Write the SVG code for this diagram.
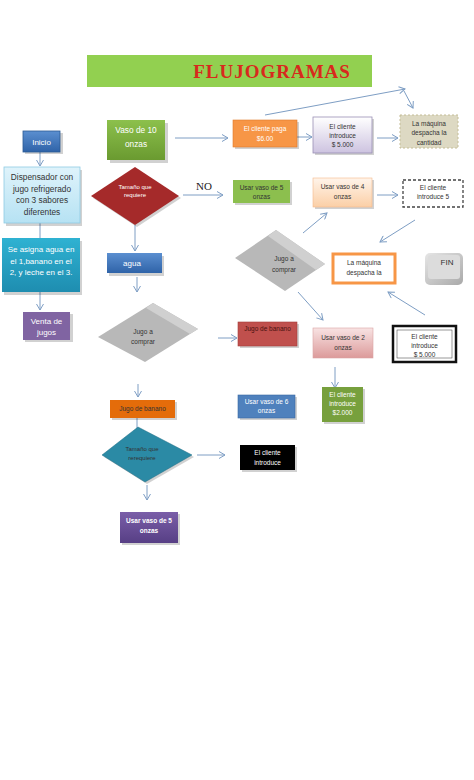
<svg xmlns="http://www.w3.org/2000/svg" width="474" height="780" viewBox="0 0 474 780">
<defs>
<linearGradient id="gBlue" x1="0" y1="0" x2="0" y2="1"><stop offset="0" stop-color="#5b8fd0"/><stop offset="1" stop-color="#2f63a8"/></linearGradient>
<linearGradient id="gGreen" x1="0" y1="0" x2="0" y2="1"><stop offset="0" stop-color="#8cc04c"/><stop offset="1" stop-color="#6a9a30"/></linearGradient>
<linearGradient id="gLav" x1="0" y1="0" x2="0" y2="1"><stop offset="0" stop-color="#ffffff"/><stop offset="1" stop-color="#cdc3e0"/></linearGradient>
<linearGradient id="gPeach" x1="0" y1="0" x2="0" y2="1"><stop offset="0" stop-color="#fff4ea"/><stop offset="1" stop-color="#fbcfa6"/></linearGradient>
<linearGradient id="gPink" x1="0" y1="0" x2="0" y2="1"><stop offset="0" stop-color="#f8e3e3"/><stop offset="1" stop-color="#dc9a9a"/></linearGradient>
<linearGradient id="gPurple" x1="0" y1="0" x2="0" y2="1"><stop offset="0" stop-color="#7a5ea8"/><stop offset="1" stop-color="#573f85"/></linearGradient>
<linearGradient id="gGray" x1="0" y1="0" x2="1" y2="1"><stop offset="0" stop-color="#e6e6e6"/><stop offset="1" stop-color="#a9a9a9"/></linearGradient>
<linearGradient id="gLightBlue" x1="0" y1="0" x2="0" y2="1"><stop offset="0" stop-color="#dff3fb"/><stop offset="1" stop-color="#b6e2f3"/></linearGradient>
<linearGradient id="gTeal" x1="0" y1="0" x2="0" y2="1"><stop offset="0" stop-color="#2fb2d2"/><stop offset="1" stop-color="#1e8db0"/></linearGradient>
<marker id="ah" markerWidth="8" markerHeight="8" refX="7" refY="4" orient="auto" markerUnits="userSpaceOnUse">
<path d="M1,0.5 L7,4 L1,7.5" fill="none" stroke="#7e9ec4" stroke-width="1"/>
</marker>
</defs>
<style>
.t{font-family:"Liberation Sans","Open Sans",sans-serif;text-anchor:middle}
.s55{font-size:6px}
.s65{font-size:6.5px}
.s8{font-size:8px}
.s85{font-size:8.3px}
.w{fill:#ffffff}
.d{fill:#333333}
.c{fill:none;stroke:#7e9ec4;stroke-width:1}
.ca{fill:none;stroke:#7e9ec4;stroke-width:1;marker-end:url(#ah)}
.sh{fill:#000;opacity:0.18}
</style>
<rect width="474" height="780" fill="#ffffff"/>

<g id="title">
<rect x="87" y="55" width="285" height="32" fill="#92d050"/>
<text x="272" y="78" font-family="Liberation Serif,serif" font-size="19" font-weight="bold" fill="#d8291d" text-anchor="middle" letter-spacing="1">FLUJOGRAMAS</text>
</g>

<g id="connectors">
<line class="ca" x1="40" y1="152" x2="40" y2="166"/>
<line class="c" x1="40" y1="223" x2="40" y2="238"/>
<line class="ca" x1="40" y1="292" x2="40" y2="310"/>
<line class="ca" x1="175" y1="138" x2="228" y2="138"/>
<line class="ca" x1="297" y1="137" x2="312" y2="137"/>
<line class="ca" x1="377" y1="138" x2="398" y2="138"/>
<line class="ca" x1="265" y1="115" x2="405" y2="89"/>
<line class="ca" x1="404" y1="91" x2="413" y2="108"/>
<line class="ca" x1="183" y1="195" x2="223" y2="195"/>
<line class="ca" x1="377" y1="195" x2="398" y2="195"/>
<line class="ca" x1="303" y1="233" x2="327" y2="213"/>
<line class="ca" x1="415" y1="220" x2="380" y2="242"/>
<line class="ca" x1="425" y1="315" x2="388" y2="292"/>
<line class="ca" x1="298" y1="292" x2="323" y2="320"/>
<line class="ca" x1="335" y1="367" x2="335" y2="388"/>
<line class="ca" x1="135" y1="225" x2="135" y2="251"/>
<line class="ca" x1="137" y1="277" x2="137" y2="292"/>
<line class="ca" x1="218" y1="338" x2="237" y2="338"/>
<line class="ca" x1="138" y1="384" x2="138" y2="397"/>
<line class="c" x1="137" y1="418" x2="137" y2="430"/>
<line class="ca" x1="197" y1="455" x2="225" y2="455"/>
<line class="ca" x1="147" y1="485" x2="147" y2="500"/>
</g>

<g id="inicio">
<rect class="sh" x="25" y="133" width="38" height="21"/>
<rect x="23" y="131" width="37" height="21" fill="url(#gBlue)" stroke="#2c5a94" stroke-width="0.8"/>
<text class="t w s8" x="41.5" y="144.5">Inicio</text>
</g>

<g id="dispensador">
<rect class="sh" x="6" y="170" width="76" height="56"/>
<rect x="4" y="167" width="76" height="56" fill="url(#gLightBlue)" stroke="#8fcbe3" stroke-width="0.8"/>
<text class="t d s85" x="42" y="180">Dispensador con</text>
<text class="t d s85" x="42" y="191.5">jugo refrigerado</text>
<text class="t d s85" x="42" y="203">con 3 sabores</text>
<text class="t d s85" x="42" y="214.5">diferentes</text>
</g>

<g id="asigna">
<rect class="sh" x="4" y="241" width="78" height="54"/>
<rect x="2" y="238" width="78" height="54" fill="url(#gTeal)"/>
<text class="t w s8" x="41" y="252">Se asigna agua en</text>
<text class="t w s8" x="41" y="263.5">el 1,banano en el</text>
<text class="t w s8" x="41" y="275">2, y leche en el 3.</text>
</g>

<g id="venta">
<rect class="sh" x="25" y="314" width="48" height="28"/>
<rect x="23" y="312" width="47" height="28" fill="#8064a2"/>
<text class="t w s8" x="46.5" y="324">Venta de</text>
<text class="t w s8" x="46.5" y="335">jugos</text>
</g>

<g id="vaso10">
<rect class="sh" x="110" y="123" width="58" height="40"/>
<rect x="107" y="120" width="58" height="40" fill="url(#gGreen)"/>
<text class="t w s85" x="136" y="133">Vaso de 10</text>
<text class="t w s85" x="136" y="147">onzas</text>
</g>

<g id="paga">
<rect class="sh" x="235" y="122" width="64" height="27"/>
<rect x="233" y="120" width="64" height="27" fill="#f79646" stroke="#e07b2a" stroke-width="0.6"/>
<text class="t w s65" x="265" y="131">El cliente paga</text>
<text class="t w s65" x="265" y="141">$6.00</text>
</g>

<g id="introduce5000a">
<rect class="sh" x="315" y="119" width="59" height="36"/>
<rect x="313" y="117" width="59" height="36" fill="url(#gLav)" stroke="#9a8fb5" stroke-width="0.8"/>
<text class="t d s65" x="342.5" y="129">El cliente</text>
<text class="t d s65" x="342.5" y="138">introduce</text>
<text class="t d s65" x="342.5" y="147">$ 5.000</text>
</g>

<g id="despacha1">
<rect x="400" y="115" width="58" height="33" fill="#ddd9c3" stroke="#c4bd97" stroke-width="1" stroke-dasharray="2,2"/>
<text class="t d s65" x="429" y="126">La máquina</text>
<text class="t d s65" x="429" y="135">despacha la</text>
<text class="t d s65" x="429" y="145">cantidad</text>
</g>

<g id="tamano1">
<polygon class="sh" points="137,169 181,198 137,227 93,198"/>
<polygon points="135,167 179,196 135,225 91,196" fill="#a52a2a"/>
<text class="t w s55" x="135" y="189">Tamaño que</text>
<text class="t w s55" x="135" y="197">requiere</text>
</g>

<g id="no">
<text x="204" y="190" font-family="Liberation Serif,serif" font-size="11" fill="#222" text-anchor="middle">NO</text>
</g>

<g id="vaso5a">
<rect class="sh" x="235" y="182" width="57" height="23"/>
<rect x="233" y="180" width="57" height="23" fill="#8cbf4e"/>
<text class="t d s65" x="261.5" y="190">Usar vaso de 5</text>
<text class="t d s65" x="261.5" y="199">onzas</text>
</g>

<g id="vaso4">
<rect class="sh" x="315" y="180" width="59" height="29"/>
<rect x="313" y="178" width="59" height="29" fill="url(#gPeach)" stroke="#f3b98a" stroke-width="0.6"/>
<text class="t d s65" x="342.5" y="189">Usar vaso de 4</text>
<text class="t d s65" x="342.5" y="199">onzas</text>
</g>

<g id="introduce5">
<rect x="403" y="180" width="60" height="27" fill="#ffffff" stroke="#444" stroke-width="1.3" stroke-dasharray="3,2"/>
<text class="t d s65" x="433" y="190">El cliente</text>
<text class="t d s65" x="433" y="199">introduce 5</text>
</g>

<g id="jugo2">
<polygon points="276,230 325,264 285,291 235,258" fill="#b8b8b8"/>
<polygon points="276,230 325,264 316,270 268,236" fill="#d0d0d0"/>
<text class="t d s65" x="284" y="261">Jugo a</text>
<text class="t d s65" x="284" y="272">comprar</text>
</g>

<g id="despacha2">
<rect x="333" y="254" width="62" height="29" fill="#ffffff" stroke="#f79646" stroke-width="3"/>
<text class="t d s65" x="364" y="265">La máquina</text>
<text class="t d s65" x="364" y="275">despacha la</text>
</g>

<g id="fin">
<rect x="425" y="253" width="38" height="32" rx="5" fill="url(#gGray)"/>
<rect x="428" y="255" width="32" height="24" rx="3" fill="#dcdcdc"/>
<text class="t d s8" x="447" y="265">FIN</text>
</g>

<g id="jugo1">
<polygon points="153,303 198,329 145,362 98,337" fill="#b8b8b8"/>
<polygon points="153,303 198,329 190,334 146,308" fill="#d0d0d0"/>
<text class="t d s65" x="143" y="334">Jugo a</text>
<text class="t d s65" x="143" y="344">comprar</text>
</g>

<g id="agua">
<rect class="sh" x="109" y="256" width="55" height="20"/>
<rect x="107" y="253" width="55" height="20" fill="url(#gBlue)"/>
<text class="t w s8" x="132" y="266">agua</text>
</g>

<g id="banano1">
<rect class="sh" x="240" y="324" width="59" height="24"/>
<rect x="238" y="322" width="59" height="24" fill="#c0504d" stroke="#a33c39" stroke-width="0.6"/>
<text class="t s65" fill="#4a1010" x="267.5" y="331">Jugo de banano</text>
</g>

<g id="vaso2">
<rect x="313" y="328" width="60" height="30" fill="url(#gPink)" stroke="#d9a3a3" stroke-width="0.6"/>
<text class="t d s65" x="343" y="340">Usar vaso de 2</text>
<text class="t d s65" x="343" y="350">onzas</text>
</g>

<g id="introduce5000b">
<rect x="393" y="326" width="63" height="36" fill="#ffffff" stroke="#111" stroke-width="2.5"/>
<rect x="397" y="330" width="55" height="28" fill="none" stroke="#333" stroke-width="0.5"/>
<svg x="397" y="330" width="55" height="28" overflow="hidden">
<text class="t d s65" x="27.5" y="9">El cliente</text>
<text class="t d s65" x="27.5" y="18">introduce</text>
<text class="t d s65" x="27.5" y="27">$ 5.000</text>
</svg>
</g>

<g id="banano2">
<rect class="sh" x="112" y="402" width="65" height="18"/>
<rect x="110" y="400" width="65" height="18" fill="#e46c0a"/>
<text class="t d s65" x="142.5" y="411">Jugo de banano</text>
</g>

<g id="vaso6">
<rect class="sh" x="240" y="397" width="57" height="23"/>
<rect x="238" y="395" width="57" height="23" fill="#4f81bd" stroke="#3a6aa3" stroke-width="0.6"/>
<text class="t w s65" x="266.5" y="404">Usar vaso de 6</text>
<text class="t w s65" x="266.5" y="413">onzas</text>
</g>

<g id="introduce2000">
<rect class="sh" x="324" y="389" width="41" height="35"/>
<rect x="322" y="387" width="41" height="35" fill="#77a03d"/>
<text class="t w s65" x="342.5" y="397">El cliente</text>
<text class="t w s65" x="342.5" y="406">introduce</text>
<text class="t w s65" x="342.5" y="415">$2.000</text>
</g>

<g id="tamano2">
<polygon class="sh" points="140,429 194,457 147,484 104,457"/>
<polygon points="138,427 192,455 145,482 102,455" fill="#2b8aa5" stroke="#1f6d84" stroke-width="0.5"/>
<text class="t d s55" x="142" y="451">Tamaño que</text>
<text class="t d s55" x="142" y="460">rerequiere</text>
</g>

<g id="introduceNegro">
<rect class="sh" x="242" y="447" width="55" height="25"/>
<rect x="240" y="445" width="55" height="25" fill="#000000"/>
<text class="t w s65" x="267.5" y="455">El cliente</text>
<text class="t w s65" x="267.5" y="465">introduce</text>
</g>

<g id="vaso5b">
<rect class="sh" x="122" y="514" width="58" height="31"/>
<rect x="120" y="512" width="58" height="31" fill="url(#gPurple)"/>
<text class="t w s65" font-weight="bold" x="149" y="523">Usar vaso de 5</text>
<text class="t w s65" font-weight="bold" x="149" y="533">onzas</text>
</g>
</svg>
